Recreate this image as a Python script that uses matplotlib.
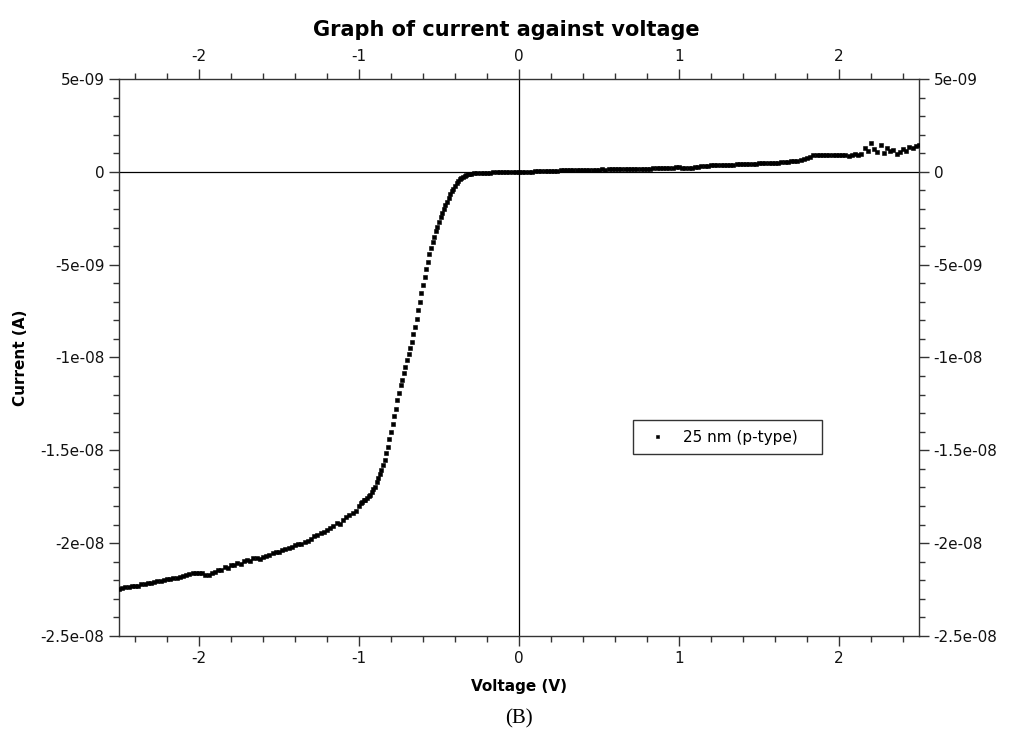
import matplotlib
matplotlib.use('Agg')
import matplotlib.pyplot as plt
from matplotlib.ticker import MultipleLocator, FuncFormatter

plt.rcParams['font.family'] = ['DejaVu Sans']
plt.rcParams['axes.unicode_minus'] = False

# voltage sweep (V) and current (nA)
volt_a = [-2.50, -2.48, -2.46, -2.44, -2.42, -2.40, -2.38, -2.36, -2.34, -2.32,
          -2.30, -2.28, -2.26, -2.24, -2.22, -2.20, -2.18, -2.16, -2.14, -2.12,
          -2.10, -2.08, -2.06, -2.04, -2.02, -2.00, -1.98, -1.96, -1.94, -1.92,
          -1.90, -1.88, -1.86, -1.84, -1.82, -1.80, -1.78, -1.76, -1.74, -1.72,
          -1.70, -1.68, -1.66, -1.64, -1.62, -1.60, -1.58, -1.56, -1.54, -1.52,
          -1.50, -1.48, -1.46, -1.44, -1.42, -1.40, -1.38, -1.36, -1.34, -1.32,
          -1.30, -1.28, -1.26, -1.24, -1.22, -1.20, -1.18, -1.16, -1.14, -1.12,
          -1.10, -1.08, -1.06, -1.04, -1.02]
curr_a = [-22.45, -22.40, -22.38, -22.35, -22.33, -22.30, -22.28, -22.22, -22.20, -22.15,
          -22.12, -22.08, -22.05, -22.02, -21.98, -21.95, -21.92, -21.88, -21.85, -21.80,
          -21.78, -21.72, -21.68, -21.62, -21.58, -21.60, -21.62, -21.70, -21.74, -21.62,
          -21.55, -21.45, -21.42, -21.30, -21.35, -21.20, -21.15, -21.05, -21.10, -20.95,
          -20.90, -20.98, -20.82, -20.78, -20.85, -20.75, -20.70, -20.62, -20.55, -20.48,
          -20.45, -20.38, -20.32, -20.25, -20.20, -20.12, -20.05, -20.02, -19.95, -19.90,
          -19.80, -19.62, -19.55, -19.45, -19.40, -19.30, -19.20, -19.05, -18.90, -18.95,
          -18.75, -18.60, -18.50, -18.35, -18.25]

volt_b = [-1.00, -0.99, -0.98, -0.97, -0.96, -0.95, -0.94, -0.93, -0.92, -0.91,
          -0.90, -0.89, -0.88, -0.87, -0.86, -0.85, -0.84, -0.83, -0.82, -0.81,
          -0.80, -0.79, -0.78, -0.77, -0.76, -0.75, -0.74, -0.73, -0.72, -0.71,
          -0.70, -0.69, -0.68, -0.67, -0.66, -0.65, -0.64, -0.63, -0.62, -0.61,
          -0.60, -0.59, -0.58, -0.57, -0.56, -0.55, -0.54, -0.53, -0.52, -0.51,
          -0.50, -0.49, -0.48, -0.47, -0.46, -0.45, -0.44, -0.43, -0.42, -0.41,
          -0.40, -0.39, -0.38, -0.37, -0.36, -0.35, -0.34, -0.33, -0.32, -0.31]
curr_b = [-18.00, -17.85, -17.80, -17.70, -17.65, -17.55, -17.45, -17.40, -17.25, -17.10,
          -16.95, -16.70, -16.50, -16.30, -16.05, -15.80, -15.50, -15.15, -14.80, -14.40,
          -14.00, -13.60, -13.15, -12.75, -12.30, -11.90, -11.50, -11.20, -10.85, -10.50,
          -10.15, -9.80, -9.50, -9.15, -8.75, -8.35, -7.90, -7.45, -7.00, -6.55,
          -6.10, -5.65, -5.25, -4.85, -4.45, -4.10, -3.80, -3.50, -3.20, -2.95,
          -2.70, -2.45, -2.20, -2.00, -1.80, -1.60, -1.40, -1.22, -1.05, -0.90,
          -0.76, -0.62, -0.50, -0.40, -0.32, -0.26, -0.21, -0.17, -0.14, -0.12]

volt_c = [-0.30, -0.28, -0.26, -0.24, -0.22, -0.20, -0.18, -0.16, -0.14, -0.12,
          -0.10, -0.08, -0.06, -0.04, -0.02, 0.00, 0.02, 0.04, 0.06, 0.08,
          0.10, 0.12, 0.14, 0.16, 0.18, 0.20, 0.22, 0.24, 0.26, 0.28,
          0.30, 0.32, 0.34, 0.36, 0.38, 0.40, 0.42, 0.44, 0.46, 0.48,
          0.50, 0.52, 0.54, 0.56, 0.58, 0.60, 0.62, 0.64, 0.66, 0.68,
          0.70, 0.72, 0.74, 0.76, 0.78, 0.80, 0.82, 0.84, 0.86, 0.88,
          0.90, 0.92, 0.94, 0.96, 0.98, 1.00, 1.02, 1.04, 1.06, 1.08,
          1.10, 1.12, 1.14, 1.16, 1.18, 1.20, 1.22, 1.24, 1.26, 1.28,
          1.30, 1.32, 1.34, 1.36, 1.38, 1.40, 1.42, 1.44, 1.46, 1.48,
          1.50, 1.52, 1.54, 1.56, 1.58, 1.60, 1.62, 1.64, 1.66, 1.68,
          1.70, 1.72, 1.74, 1.76, 1.78, 1.80, 1.82, 1.84, 1.86, 1.88,
          1.90, 1.92, 1.94, 1.96, 1.98, 2.00, 2.02, 2.04, 2.06, 2.08,
          2.10, 2.12, 2.14, 2.16, 2.18, 2.20, 2.22, 2.24, 2.26, 2.28,
          2.30, 2.32, 2.34, 2.36, 2.38, 2.40, 2.42, 2.44, 2.46, 2.48, 2.50]
curr_c = [-0.10, -0.08, -0.07, -0.06, -0.05, -0.04, -0.04, -0.03, -0.03, -0.02,
          -0.02, -0.02, -0.01, -0.01, -0.01, 0.00, 0.00, 0.01, 0.01, 0.01,
          0.02, 0.02, 0.02, 0.03, 0.03, 0.04, 0.04, 0.06, 0.08, 0.08,
          0.09, 0.09, 0.10, 0.10, 0.11, 0.10, 0.11, 0.12, 0.11, 0.12,
          0.12, 0.13, 0.12, 0.13, 0.13, 0.14, 0.13, 0.14, 0.15, 0.14,
          0.15, 0.16, 0.15, 0.16, 0.17, 0.16, 0.17, 0.18, 0.18, 0.19,
          0.19, 0.20, 0.20, 0.21, 0.24, 0.27, 0.22, 0.21, 0.22, 0.23,
          0.25, 0.28, 0.30, 0.31, 0.34, 0.36, 0.35, 0.36, 0.37, 0.36,
          0.38, 0.39, 0.38, 0.40, 0.41, 0.40, 0.42, 0.43, 0.42, 0.44,
          0.45, 0.46, 0.45, 0.47, 0.48, 0.50, 0.49, 0.52, 0.55, 0.53,
          0.57, 0.60, 0.58, 0.64, 0.70, 0.76, 0.82, 0.88, 0.90, 0.92,
          0.91, 0.90, 0.93, 0.92, 0.89, 0.92, 0.90, 0.88, 0.86, 0.91,
          0.97, 0.88, 0.95, 1.30, 1.12, 1.55, 1.25, 1.05, 1.45, 1.00,
          1.30, 1.10, 1.20, 0.98, 1.05, 1.25, 1.10, 1.35, 1.28, 1.40, 1.45]

volt = volt_a + volt_b + volt_c
curr = [c * 1e-9 for c in curr_a + curr_b + curr_c]

fig = plt.figure(figsize=(10.12, 7.34), dpi=100)
ax = fig.add_axes([0.1176, 0.1335, 0.7905, 0.7589])

ax.axhline(0, color='black', lw=0.9, zorder=1)
ax.axvline(0, color='black', lw=0.9, zorder=1)
ax.plot(volt, curr, 's', color='black', markersize=2.4, markeredgewidth=0.4,
        label='25 nm (p-type)   ', zorder=3)

ax.set_xlim(-2.5, 2.5)
ax.set_ylim(-2.5e-08, 5e-09)

ax.xaxis.set_major_locator(MultipleLocator(1))
ax.xaxis.set_minor_locator(MultipleLocator(0.2))
ax.yaxis.set_major_locator(MultipleLocator(5e-09))
ax.yaxis.set_minor_locator(MultipleLocator(1e-09))
ax.yaxis.set_major_formatter(FuncFormatter(lambda v, p: '%g' % round(v, 13)))
ax.xaxis.set_major_formatter(FuncFormatter(lambda v, p: '%g' % round(v, 6)))

for s in ax.spines.values():
    s.set_color('#333333')
    s.set_linewidth(1.0)

ax.tick_params(axis='both', which='both', direction='out', top=True, right=True,
               labeltop=True, labelright=True, colors='#333333', labelcolor='#111111',
               labelsize=11)
ax.tick_params(which='major', length=7.5, width=1.0, pad=3)
ax.tick_params(which='minor', length=4.5, width=1.0)

ax.set_title('Graph of current against voltage', fontsize=15, fontweight='bold',
             pad=31, x=0.484)
ax.set_xlabel('Voltage (V)', fontsize=11, fontweight='bold', labelpad=9.5)
ax.set_ylabel('Current (A)', fontsize=11, fontweight='bold')
ax.yaxis.set_label_coords(-0.114, 0.5)

leg = ax.legend(loc='center', bbox_to_anchor=(0.761, 0.357), fontsize=11,
                frameon=True, fancybox=False, framealpha=1, edgecolor='#333333',
                handlelength=1.9, handletextpad=0.75, borderpad=0.62, markerscale=0.9)
leg.get_frame().set_linewidth(1.0)

fig.text(0.5128, 0.014, '(B)', fontsize=15, family='Liberation Serif', ha='center')

fig.savefig('out.png', dpi=100)
